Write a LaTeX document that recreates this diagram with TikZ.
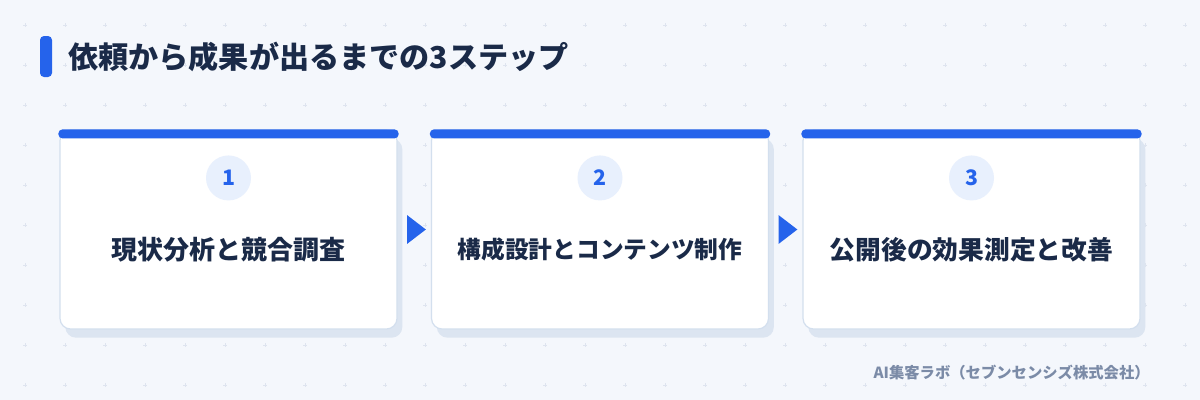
\documentclass[tikz,border=0pt]{standalone}
\usepackage{fontspec}
\setmainfont{Noto Sans CJK JP}
\usetikzlibrary{shapes.geometric,shadows,calc}
\definecolor{pageBg}{HTML}{F4F7FC}
\definecolor{dotGrey}{HTML}{DEE4EF}
\definecolor{stepBlue}{HTML}{2563EB}
\definecolor{inkNavy}{HTML}{1A2A48}
\definecolor{cardLine}{HTML}{D3DFEE}
\definecolor{cardShade}{HTML}{DCE5F1}
\definecolor{numFill}{HTML}{E8F0FD}
\definecolor{footGrey}{HTML}{7B8BA7}

\begin{document}
\begin{tikzpicture}
[x=0.75pt,y=-0.75pt,
  cardDecorate/.style={shape=rectangle,rounded corners=8pt,fill=white,draw=cardLine,line width=0.9pt,
    minimum width=252.75pt,minimum height=149.25pt,
    general shadow={fill=cardShade,shadow xshift=4pt,shadow yshift=-6.5pt}},%
  barDecorate/.style={fill=stepBlue,rounded corners=3pt},%
  numDecorate/.style={shape=circle,fill=numFill,text=stepBlue,minimum size=33.75pt,inner sep=0pt,font=\bfseries\fontsize{16}{16}\selectfont},%
  labelDecorate/.style={text=inkNavy,inner sep=0pt,font=\bfseries\fontsize{#1}{#1}\selectfont},%
  arrowDecorate/.style={shape=isosceles triangle,isosceles triangle apex angle=75,fill=stepBlue,inner sep=0pt,minimum height=14pt,minimum width=18.5pt}]
%% background and dots
\fill[pageBg] (0,0) rectangle (1200,400);
\useasboundingbox (0,0) rectangle (1200,400);
\foreach \x in {25,65,...,1185}
  \foreach \y in {25,65,...,385}
  {
    \draw[dotGrey,line width=0.55pt] (\x-1.8,\y) -- (\x+1.8,\y) (\x,\y-1.8) -- (\x,\y+1.8);
  }
%% title
\fill[barDecorate] (40,36) rectangle (52,77);
\node (title) at (68,57) [anchor=west,inner sep=0pt,text=inkNavy,font=\bfseries\fontsize{22.6}{22.6}\selectfont] {依頼から成果が出るまでの3ステップ};
%% cards
\foreach \nodename/\x/\num/\size/\txt in {card1/228.5/1/19.5/現状分析と競合調査, card2/600/2/17.8/構成設計とコンテンツ制作, card3/971.5/3/19.3/公開後の効果測定と改善}
{
  \node (\nodename) at (\x,229.5) [cardDecorate] {};
  \fill[barDecorate] ([xshift=-0.75pt]\nodename.north west) rectangle ([xshift=0.75pt,yshift=-6.75pt]\nodename.north east);
  \node (\nodename num) at ([yshift=-36.4pt]\nodename.north) [numDecorate] {\num};
  \node (\nodename txt) at ([yshift=-15pt]\nodename.center) [labelDecorate=\size] {\txt};
}
%% arrows between cards
\foreach \startnode/\endnode in {card1/card2, card2/card3}
{
  \node (\startnode arr) at ($(\startnode.east)!0.5!(\endnode.west)$) [arrowDecorate] {};
}
%% footer
\node (foot) at (1150,373) [anchor=east,inner sep=0pt,text=footGrey,font=\bfseries\fontsize{11.5}{11.5}\selectfont] {AI集客ラボ（セブンセンシズ株式会社）};
\end{tikzpicture}
\end{document}
